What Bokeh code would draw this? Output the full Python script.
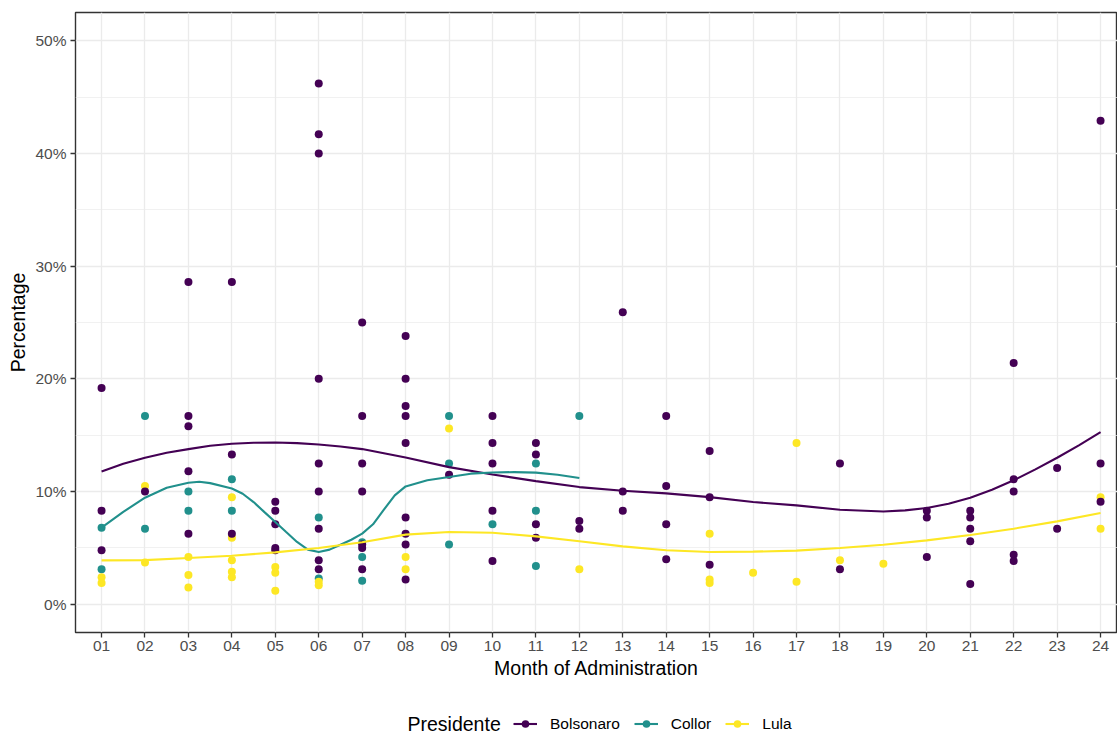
from bokeh.plotting import figure
from bokeh.layouts import column
from bokeh.models import Legend, LegendItem, FixedTicker, Range1d, Label
from bokeh.embed import file_html
from bokeh.resources import INLINE

# ---- data -------------------------------------------------------------
month_labels = ["01", "02", "03", "04", "05", "06", "07", "08", "09", "10", "11", "12",
                "13", "14", "15", "16", "17", "18", "19", "20", "21", "22", "23", "24"]
pct_ticks = [0, 10, 20, 30, 40, 50]
pct_labels = ["0%", "10%", "20%", "30%", "40%", "50%"]

bolsonaro_month = [1, 1, 1,
                   2,
                   3, 3, 3, 3, 3,
                   4, 4, 4,
                   5, 5, 5, 5, 5,
                   6, 6, 6, 6, 6, 6, 6, 6, 6,
                   7, 7, 7, 7, 7, 7, 7,
                   8, 8, 8, 8, 8, 8, 8, 8, 8,
                   9,
                   10, 10, 10, 10, 10,
                   11, 11, 11, 11,
                   12, 12,
                   13, 13, 13,
                   14, 14, 14, 14,
                   15, 15, 15,
                   18, 18,
                   20, 20, 20,
                   21, 21, 21, 21, 21,
                   22, 22, 22, 22, 22,
                   23, 23,
                   24, 24, 24]
bolsonaro_pct = [19.2, 8.3, 4.8,
                 10.0,
                 28.6, 16.7, 15.8, 11.8, 6.25,
                 28.6, 13.3, 6.25,
                 9.1, 8.3, 7.1, 5.0, 4.8,
                 46.2, 41.7, 40.0, 20.0, 12.5, 10.0, 6.7, 3.9, 3.1,
                 25.0, 16.7, 12.5, 10.0, 5.3, 5.0, 3.1,
                 23.8, 20.0, 17.6, 16.7, 14.3, 7.7, 6.25, 5.3, 2.2,
                 11.5,
                 16.7, 14.3, 12.5, 8.3, 3.85,
                 14.3, 13.3, 7.1, 5.9,
                 7.4, 6.7,
                 25.9, 10.0, 8.3,
                 16.7, 10.5, 7.1, 4.0,
                 13.6, 9.5, 3.5,
                 12.5, 3.1,
                 8.3, 7.7, 4.2,
                 8.3, 7.7, 6.7, 5.6, 1.8,
                 21.4, 11.1, 10.0, 4.4, 3.85,
                 12.1, 6.7,
                 42.9, 12.5, 9.1]

collor_month = [1, 1, 2, 2, 3, 3, 4, 4, 6, 6, 7, 7, 7, 9, 9, 9, 10, 11, 11, 11, 12]
collor_pct = [6.8, 3.1, 16.7, 6.7, 10.0, 8.3, 11.1, 8.3, 7.7, 2.3, 5.5, 4.2, 2.1,
              16.7, 12.5, 5.3, 7.1, 12.5, 8.3, 3.4, 16.7]

lula_month = [1, 1, 2, 2, 3, 3, 3, 4, 4, 4, 4, 4, 5, 5, 5, 6, 6, 8, 8, 9, 12,
              15, 15, 15, 16, 17, 17, 18, 19, 24, 24]
lula_pct = [2.4, 1.9, 10.5, 3.7, 4.2, 2.6, 1.5, 9.5, 5.9, 3.9, 2.9, 2.4, 3.3, 2.8, 1.2,
            2.0, 1.7, 4.2, 3.1, 15.6, 3.1, 6.25, 2.2, 1.9, 2.8, 14.3, 2.0, 3.9, 3.6, 9.5, 6.7]

# fitted (loess) trend per president
bolsonaro_fit_x = [1, 1.5, 2, 2.5, 3, 3.5, 4, 4.5, 5, 5.5, 6, 6.5, 7, 7.5, 8, 9, 10, 11, 12,
                   13, 14, 15, 16, 17, 18, 19, 19.5, 20, 20.5, 21, 21.5, 22, 22.5, 23, 23.5, 24]
bolsonaro_fit_y = [11.79, 12.47, 13.0, 13.45, 13.77, 14.07, 14.24, 14.33, 14.36, 14.30, 14.18,
                   14.0, 13.77, 13.4, 13.03, 12.17, 11.52, 10.93, 10.4, 10.08, 9.84, 9.51, 9.07,
                   8.78, 8.39, 8.24, 8.33, 8.54, 8.92, 9.46, 10.17, 11.0, 11.97, 13.0, 14.1, 15.28]

collor_fit_x = [1, 1.5, 2, 2.5, 3, 3.25, 3.5, 4, 4.25, 4.5, 4.75, 5, 5.25, 5.5, 5.75, 6, 6.25,
                6.5, 6.75, 7, 7.25, 7.5, 7.75, 8, 8.5, 9, 9.5, 10, 10.5, 11, 11.5, 12]
collor_fit_y = [6.8, 8.2, 9.46, 10.34, 10.79, 10.88, 10.75, 10.28, 9.81, 9.07, 8.18, 7.3, 6.41,
                5.53, 4.85, 4.64, 4.85, 5.29, 5.73, 6.27, 7.1, 8.4, 9.66, 10.46, 11.0, 11.29,
                11.59, 11.7, 11.73, 11.68, 11.5, 11.2]

lula_fit_x = [1, 2, 3, 4, 5, 6, 7, 8, 9, 10, 11, 12, 13, 14, 15, 16, 17, 18, 19, 20, 21, 22, 23, 24]
lula_fit_y = [3.9, 3.92, 4.11, 4.31, 4.61, 4.99, 5.5, 6.18, 6.41, 6.35, 6.03, 5.59, 5.14, 4.79,
              4.64, 4.67, 4.76, 4.99, 5.29, 5.67, 6.15, 6.71, 7.36, 8.1]

presidents = ["Bolsonaro", "Collor", "Lula"]
colors = {"Bolsonaro": "#440154", "Collor": "#21908C", "Lula": "#FDE725"}
series = {
    "Bolsonaro": (bolsonaro_month, bolsonaro_pct, bolsonaro_fit_x, bolsonaro_fit_y),
    "Collor": (collor_month, collor_pct, collor_fit_x, collor_fit_y),
    "Lula": (lula_month, lula_pct, lula_fit_x, lula_fit_y),
}

FONT = "Liberation Sans"
W = 1117
MAIN_H = 690
KEY_H = 43
FRAME_LEFT = 75

# ---- main panel -------------------------------------------------------
p = figure(width=W, height=MAIN_H,
           x_range=Range1d(0.4, 24.39), y_range=Range1d(-2.5, 52.5),
           output_backend="svg", toolbar_location=None,
           min_border_left=FRAME_LEFT, min_border_right=0, min_border_top=12,
           min_border_bottom=58,
           background_fill_color="white", border_fill_color="white")

p.outline_line_color = "#333333"
p.outline_line_width = 1.4

p.xaxis.ticker = FixedTicker(ticks=list(range(1, 25)))
p.xaxis.major_label_overrides = {i + 1: lab for i, lab in enumerate(month_labels)}
p.yaxis.ticker = FixedTicker(ticks=pct_ticks)
p.yaxis.major_label_overrides = {t: lab for t, lab in zip(pct_ticks, pct_labels)}

p.xgrid.ticker = FixedTicker(ticks=list(range(1, 25)))
p.ygrid.ticker = FixedTicker(ticks=pct_ticks, minor_ticks=[5, 15, 25, 35, 45])
p.grid.grid_line_color = "#EBEBEB"
p.grid.grid_line_width = 1.3
p.ygrid.minor_grid_line_color = "#EBEBEB"
p.ygrid.minor_grid_line_width = 0.7

p.axis.axis_line_color = None
p.axis.minor_tick_line_color = None
p.axis.major_tick_line_color = "#333333"
p.axis.major_tick_line_width = 1.3
p.axis.major_tick_out = 5
p.axis.major_tick_in = 0
p.axis.major_label_text_font = FONT
p.axis.major_label_text_font_size = "15.5px"
p.axis.major_label_text_color = "#4D4D4D"
p.axis.axis_label_text_font = FONT
p.axis.axis_label_text_font_size = "19.5px"
p.axis.axis_label_text_font_style = "normal"
p.axis.axis_label_text_color = "#000000"

p.xaxis.axis_label = "Month of Administration"
p.yaxis.axis_label = "Percentage"
p.xaxis.major_label_standoff = 3
p.xaxis.axis_label_standoff = 3
p.yaxis.major_label_standoff = 4
p.yaxis.axis_label_standoff = 3

# points: Collor, Lula, then Bolsonaro on top
for name in ["Collor", "Lula", "Bolsonaro"]:
    xs, ys, _, _ = series[name]
    p.scatter(xs, ys, size=8, color=colors[name], line_color=None)

# trend lines
for name in presidents:
    _, _, fx, fy = series[name]
    p.line(fx, fy, line_color=colors[name], line_width=2.1)

# ---- legend strip -----------------------------------------------------
# The strip's frame is aligned with the main frame by the column layout,
# so its x range is expressed in page pixels (FRAME_LEFT .. W).
k = figure(width=W, height=KEY_H, x_range=Range1d(FRAME_LEFT, W), y_range=Range1d(0, KEY_H),
           output_backend="svg", toolbar_location=None, min_border=0,
           x_axis_location=None, y_axis_location=None,
           background_fill_color="white", border_fill_color="white")
k.outline_line_color = None
k.xgrid.visible = False
k.ygrid.visible = False

# key renderers carry the series data, which falls outside the strip's ranges
items = []
for name in presidents:
    xs, ys, fx, fy = series[name]
    ln = k.line(fx, fy, line_color=colors[name], line_width=2.1)
    pt = k.scatter(xs, ys, color=colors[name], line_color=None)
    items.append(LegendItem(label=name, renderers=[ln, pt]))

legend = Legend(items=items, orientation="horizontal", location=(513 - FRAME_LEFT, 0),
                border_line_color=None, background_fill_alpha=0,
                padding=0, margin=0, spacing=14, label_standoff=13,
                glyph_width=24, glyph_height=19, label_height=19,
                label_text_font=FONT, label_text_font_size="15.5px",
                label_text_color="#000000")
k.add_layout(legend)
k.add_layout(Label(x=407, y=10, text="Presidente", text_font=FONT, text_font_size="19.5px",
                   text_baseline="middle", text_align="left", text_color="#000000"))

layout = column(p, k, spacing=0)
open("out.html", "w").write(file_html(layout, INLINE))
